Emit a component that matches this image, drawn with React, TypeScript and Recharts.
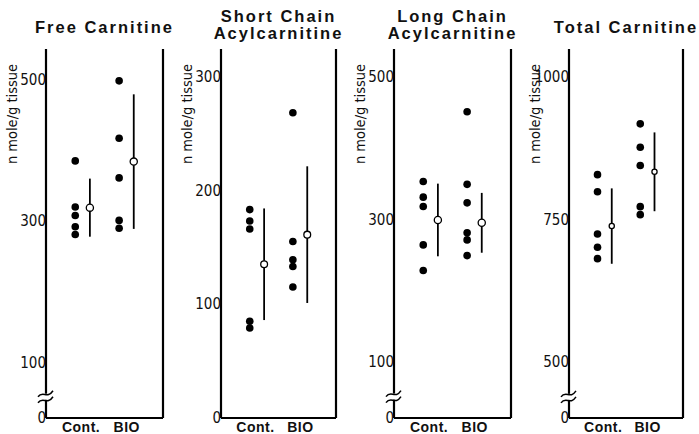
import React from "react";
import {
  ComposedChart,
  Scatter,
  XAxis,
  YAxis,
  ErrorBar,
  ReferenceLine,
  ReferenceDot,
} from "recharts";

const groups = ["Cont.", "BIO"];

// n mole/g tissue
const freeCont = [385, 320, 308, 292, 281];
const freeBio = [498, 417, 361, 301, 290];
const freeMean = [319, 384];
const freeSd = [41, 95];

const shortCont = [183, 173, 166, 85, 79];
const shortBio = [268, 155, 139, 133, 115];
const shortMean = [135, 161];
const shortSd = [49, 60];

const longCont = [353, 331, 318, 264, 228];
const longBio = [451, 349, 323, 281, 271, 249];
const longMean = [299, 295];
const longSd = [51, 42];

const totalCont = [828, 798, 724, 701, 681];
const totalBio = [917, 876, 844, 772, 758];
const totalMean = [738, 833];
const totalSd = [66, 69];

const freeTicks = [100, 300, 500];
const shortTicks = [0, 100, 200, 300];
const longTicks = [100, 300, 500];
const totalTicks = [500, 750, 1000];

// x layout inside each panel (domain 0..10)
const LABEL_X = [3, 6.9];
const DOT_X = [2.5, 6.25];
const MEAN_X = [3.75, 7.5];

const AXIS_W = 48;
const TOP = 49;
const narrow = "'Liberation Sans Narrow', 'DejaVu Sans Condensed', sans-serif";
const boldFont = "'Liberation Sans', Arial, sans-serif";

const BreakMark = (props: any) => {
  const { cx, cy } = props;
  const wave = (y: number) =>
    `M ${cx - 8} ${y + 3} C ${cx - 3} ${y - 4}, ${cx + 1} ${y + 6}, ${cx + 7} ${y - 3}`;
  return (
    <g>
      <rect x={cx - 3} y={cy - 3} width={6} height={6} fill="#fff" />
      <path d={wave(cy - 3)} stroke="#000" strokeWidth={1.5} fill="none" />
      <path d={wave(cy + 3)} stroke="#000" strokeWidth={1.5} fill="none" />
    </g>
  );
};

interface PanelProps {
  title: string[];
  left: number;
  right: number;
  domain: [number, number];
  ticks: number[];
  brk?: number;
  cont: number[];
  bio: number[];
  mean: number[];
  sd: number[];
  meanR: number;
}

function Panel({ title, left, right, domain, ticks, brk, cont, bio, mean, sd, meanR }: PanelProps) {
  const width = right - left + AXIS_W + 8;
  const allTicks = brk != null ? [domain[0], ...ticks] : ticks;
  const dots = [
    ...cont.map((v) => ({ x: DOT_X[0], y: v })),
    ...bio.map((v) => ({ x: DOT_X[1], y: v })),
  ];
  const means = mean.map((m, i) => ({ x: MEAN_X[i], y: m, err: sd[i] }));

  return (
    <div style={{ position: "absolute", left: left - AXIS_W, top: 0, width, height: 434 }}>
      <div
        style={{
          position: "absolute",
          left: AXIS_W - 30,
          width: right - left + 60,
          top: title.length > 1 ? 8 : 19,
          textAlign: "center",
          fontFamily: boldFont,
          fontWeight: "bold",
          fontSize: 16.5,
          letterSpacing: 2,
          lineHeight: "17px",
          color: "#111",
        }}
      >
        {title.map((t) => (
          <div key={t}>{t}</div>
        ))}
      </div>
      <ComposedChart width={width} height={434} margin={{ top: TOP, right: 8, bottom: 0, left: 0 }}>
        <XAxis
          type="number"
          dataKey="x"
          domain={[0, 10]}
          ticks={LABEL_X}
          interval={0}
          tickFormatter={(v: number) => groups[LABEL_X.indexOf(v)] ?? ""}
          tickLine={false}
          tickSize={0}
          tickMargin={4}
          height={16}
          axisLine={{ stroke: "#000", strokeWidth: 2.2 }}
          tick={{ fill: "#111", fontSize: 14, fontWeight: "bold", fontFamily: boldFont, letterSpacing: 0.5 }}
        />
        <YAxis
          type="number"
          dataKey="y"
          domain={domain}
          allowDataOverflow
          ticks={allTicks}
          interval={0}
          tickFormatter={(v: number) => (brk != null && v === domain[0] ? "0" : String(v))}
          tickLine={false}
          tickSize={0}
          tickMargin={0}
          width={AXIS_W}
          axisLine={{ stroke: "#000", strokeWidth: 2.2 }}
          tick={{ fill: "#111", fontSize: 15, fontFamily: narrow }}
          label={{
            content: (p: any) => {
              const x = (p.viewBox?.x ?? 0) + 14;
              return (
                <text
                  x={x}
                  y={114}
                  transform={`rotate(-90, ${x}, 114)`}
                  textAnchor="middle"
                  dominantBaseline="central"
                  fontSize={14.5}
                  fontFamily={narrow}
                  fill="#111"
                >
                  n mole/g tissue
                </text>
              );
            },
          }}
        />
        <ReferenceLine x={10} stroke="#000" strokeWidth={2.2} ifOverflow="visible" />
        {brk != null && (
          <ReferenceDot x={0} y={brk} r={0} ifOverflow="visible" shape={BreakMark} />
        )}
        <Scatter
          data={dots}
          isAnimationActive={false}
          shape={(p: any) => <circle cx={p.cx} cy={p.cy} r={3.8} fill="#000" />}
        />
        <Scatter
          data={means}
          isAnimationActive={false}
          shape={(p: any) => (
            <circle cx={p.cx} cy={p.cy} r={meanR} fill="#fff" stroke="#000" strokeWidth={1.3} />
          )}
        >
          <ErrorBar dataKey="err" direction="y" width={0} stroke="#000" strokeWidth={1.8} />
        </Scatter>
      </ComposedChart>
    </div>
  );
}

export default function App() {
  return (
    <div
      style={{
        position: "absolute",
        left: 0,
        top: 0,
        width: 699,
        height: 434,
        background: "#fff",
        overflow: "hidden",
      }}
    >
      <Panel
        title={["Free Carnitine"]}
        left={46}
        right={163}
        domain={[22, 543]}
        ticks={freeTicks}
        brk={52}
        cont={freeCont}
        bio={freeBio}
        mean={freeMean}
        sd={freeSd}
        meanR={3.6}
      />
      <Panel
        title={["Short Chain", "Acylcarnitine"]}
        left={221}
        right={336}
        domain={[0, 324]}
        ticks={shortTicks}
        cont={shortCont}
        bio={shortBio}
        mean={shortMean}
        sd={shortSd}
        meanR={3.4}
      />
      <Panel
        title={["Long Chain", "Acylcarnitine"]}
        left={394}
        right={511}
        domain={[21, 539]}
        ticks={longTicks}
        brk={51}
        cont={longCont}
        bio={longBio}
        mean={longMean}
        sd={longSd}
        meanR={3.6}
      />
      <Panel
        title={["Total Carnitine"]}
        left={569}
        right={683}
        domain={[402, 1048]}
        ticks={totalTicks}
        brk={439}
        cont={totalCont}
        bio={totalBio}
        mean={totalMean}
        sd={totalSd}
        meanR={2.6}
      />
    </div>
  );
}
